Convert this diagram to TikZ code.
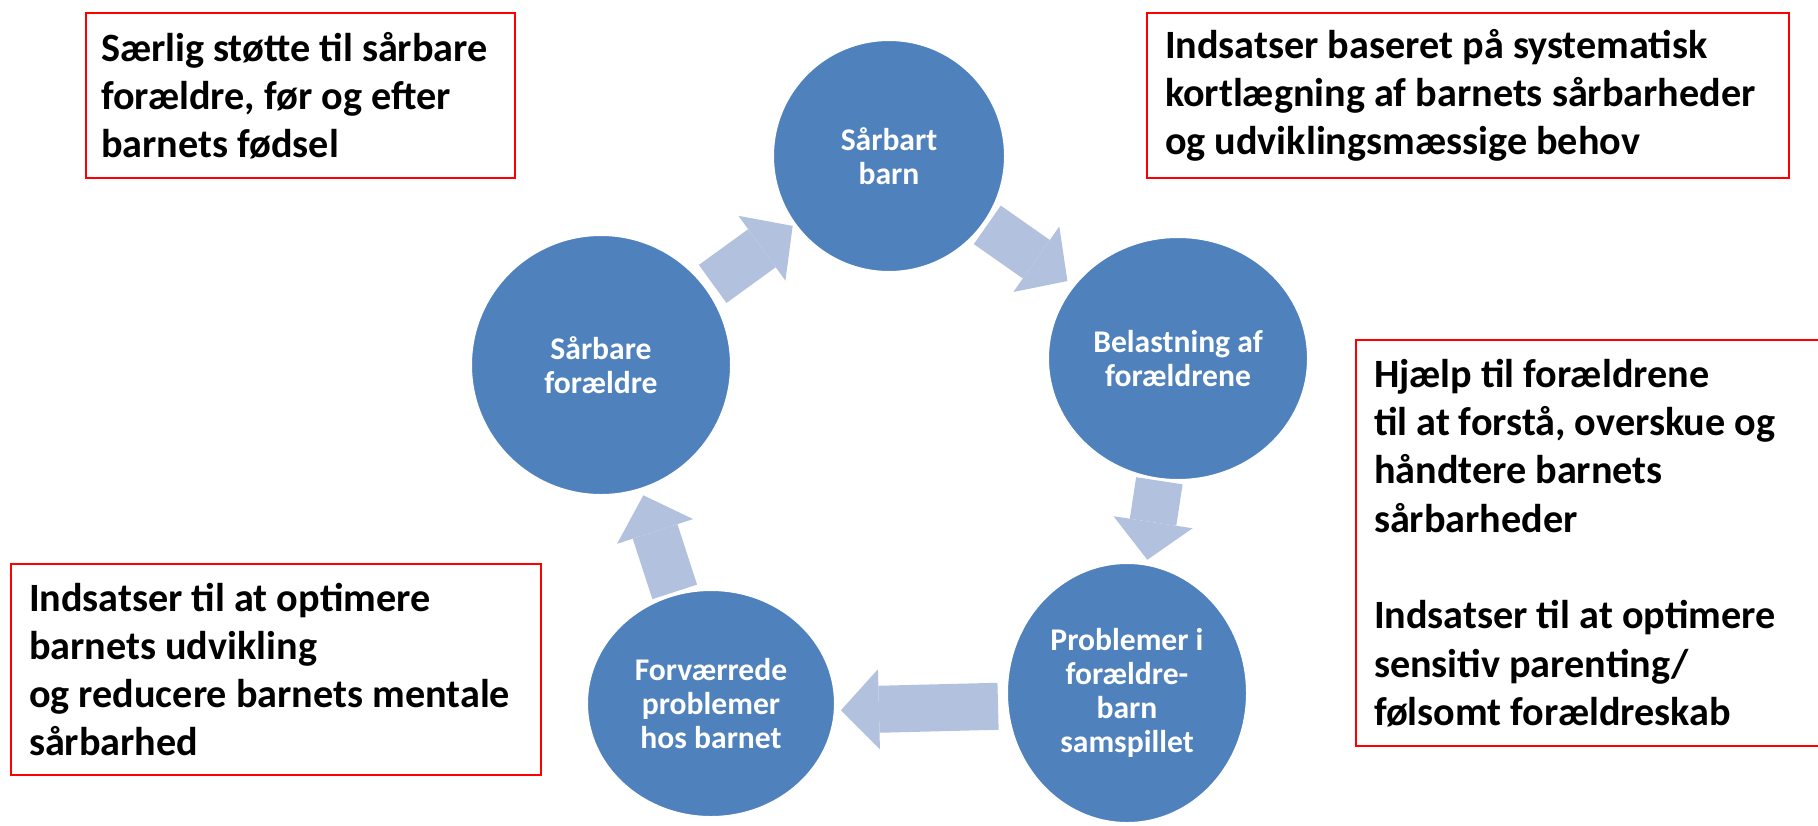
\documentclass[tikz,border=0pt]{standalone}
\usepackage{fontspec}
\setmainfont{Carlito}
\usetikzlibrary{shapes.geometric,arrows.meta}
\definecolor{bubblefill}{HTML}{4F81BD}
\definecolor{flowfill}{HTML}{B2C1DE}
\definecolor{boxred}{HTML}{FF0000}

\begin{document}
\begin{tikzpicture}[x=1pt, y=-1pt,
    bubble/.style={ellipse, fill=bubblefill, draw=white, line width=2pt, inner sep=0pt,
      text=white, align=center, font=\fontsize{31.6}{34}\selectfont\bfseries},
    flow/.style={draw=flowfill, line width=47pt,
      -{Triangle[width=80pt, length=38pt, line width=0pt]}},
    note/.style={draw=boxred, line width=2pt, anchor=north west, inner xsep=18pt,
      inner ysep=0pt, align=flush left, font=\fontsize{40.2}{48.3}\selectfont\bfseries}]

    % Canvas
    \useasboundingbox (0,0) rectangle (1818,825);
    \clip (0,0) rectangle (1818,825);

    % Cycle
    \node[bubble, minimum width=232pt, minimum height=232pt] (barn) at (889,156) {Sårbart\\barn};
    \node[bubble, minimum width=260pt, minimum height=260pt] (foraeldre) at (601,365) {Sårbare\\forældre};
    \node[bubble, minimum width=260pt, minimum height=243pt] (belastning) at (1178,358.5) {Belastning af\\forældrene};
    \node[bubble, minimum width=240pt, minimum height=260pt] (samspil) at (1127,693) {Problemer i\\forældre-\\barn\\samspillet};
    \node[bubble, minimum width=248pt, minimum height=227pt] (problemer) at (711,703.5) {Forværrede\\problemer\\hos barnet};

    % Arrows between the circles
    \draw[flow, shorten <=7pt, shorten >=2pt] (foraeldre) -- (barn);
    \draw[flow, shorten <=3pt, shorten >=7pt] (barn) -- (belastning);
    \draw[flow, shorten <=1pt, shorten >=4pt] (belastning) -- (samspil);
    \draw[flow, shorten <=8pt, shorten >=5pt, transform canvas={yshift=-10pt}] (samspil) -- (problemer);
    \draw[flow, shorten <=2pt, shorten >=6pt] (problemer) -- (foraeldre);

    % Red boxes
    \node[note, inner xsep=15pt, minimum width=429pt, minimum height=165pt, text width=399pt] (stotte) at (85,12)
        {Særlig støtte til sårbare\\forældre, før og efter\\barnets fødsel};
    \node[note, minimum width=642pt, minimum height=165pt, text width=606pt] (kortlaegning) at (1146,12)
        {Indsatser baseret på systematisk\\kortlægning af barnets sårbarheder\\og udviklingsmæssige behov};
    \node[note, minimum width=480pt, minimum height=406pt, text width=444pt] (hjaelp) at (1355,339)
        {Hjælp til forældrene\\til at forstå, overskue og\\håndtere barnets\\sårbarheder\\[48.3pt]Indsatser til at optimere\\sensitiv parenting/\\følsomt forældreskab};
    \node[note, minimum width=530pt, minimum height=211pt, text width=494pt] (udvikling) at (10,563)
        {Indsatser til at optimere\\barnets udvikling\\og reducere barnets mentale\\sårbarhed};
\end{tikzpicture}
\end{document}
